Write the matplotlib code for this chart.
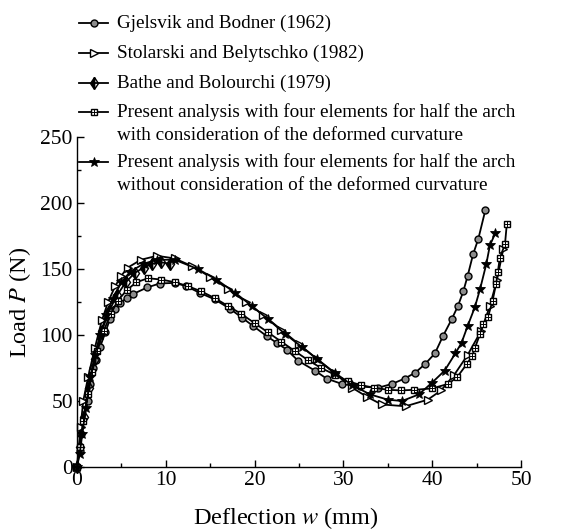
import matplotlib
matplotlib.use('Agg')
import matplotlib.pyplot as plt
from matplotlib.lines import Line2D

# Gjelsvik and Bodner (1962)
gj_x = [0, 0.3, 0.5, 1.2, 1.5, 1.8, 2.1, 2.6, 3.2, 3.7, 4.3, 4.8, 5.6, 6.3, 7.9, 9.3, 11.0,
        12.3, 13.8, 15.5, 17.2, 18.6, 19.8, 21.4, 22.5, 23.6, 24.9, 26.8, 28.1, 29.8, 31.9,
        33.9, 35.5, 36.9, 38.1, 39.2, 40.3, 41.2, 42.2, 42.9, 43.5, 44.0, 44.6, 45.2, 46.0]
gj_y = [0, 12, 25, 50, 63, 75, 81, 91, 102, 112, 120, 124, 128, 131, 136, 139, 139.5,
        137, 132, 127, 120, 113, 107, 99, 94, 89, 80.5, 73, 67, 63, 61,
        60, 63, 67, 71.5, 78, 86, 99, 112, 122, 133, 145, 161, 173, 195]

# Stolarski and Belytschko (1982)
st_x = [0, 0.4, 0.7, 1.25, 2.0, 2.8, 3.5, 4.3, 5.0, 5.7, 7.2, 9.0, 11, 13, 15, 17, 19, 21,
        23, 25, 27, 29, 31, 32.7, 34.3, 37, 39.5, 41, 42.5, 44, 45.5, 46.5, 47.3, 48]
st_y = [0, 30, 50, 68, 90, 111, 125, 137, 145, 151, 157, 160, 158, 152, 144, 135, 125, 115,
        104, 93, 82, 71, 60, 53, 47.4, 46, 51, 58, 70, 85, 103, 122, 142, 165]

# Bathe and Bolourchi (1979)
ba_x = [0, 0.3, 0.8, 1.3, 2.0, 2.8, 3.6, 4.5, 5.5, 6.5, 7.5, 8.5, 9.5, 10.5]
ba_y = [0, 15, 38, 60, 82, 103, 118, 130, 140, 147, 151, 154, 155, 154]

# Present analysis, with deformed curvature
pw_x = [0, 0.3, 0.7, 1.2, 1.7, 2.3, 3.0, 3.8, 4.6, 5.6, 6.7, 8.0, 9.5, 11, 12.5, 14, 15.5,
        17, 18.5, 20, 21.5, 23, 24.5, 26, 27.5, 29, 30.5, 32, 33.5, 35, 36.5, 38, 40, 41.8,
        42.8, 43.9, 44.5, 44.8, 45.4, 45.7, 46.3, 46.8, 47.2, 47.4, 47.6, 48.2, 48.4]
pw_y = [0, 15, 35, 55, 72, 88, 103, 116, 126, 134, 140, 143, 142, 140, 137, 133, 128,
        122, 116, 109, 102, 95, 88, 81, 75, 70, 65, 62, 60, 58.5, 58, 58.5, 59.5, 63,
        68, 78, 84, 90, 101, 108, 114, 126, 139, 148, 158, 169, 184]

# Present analysis, without deformed curvature
po_x = [0, 0.3, 0.6, 1.0, 1.5, 2.0, 2.6, 3.3, 4.0, 5.0, 6.0, 7.5, 9.0, 11, 13.6, 15.7, 17.8,
        19.7, 21.5, 23.4, 25.3, 27, 29, 31, 33, 35, 36.6, 38.5, 40, 41.4, 42.6, 43.3, 44,
        44.8, 45.4, 46.1, 46.5, 47.1]
po_y = [0, 10, 25, 45, 68, 85, 100, 115, 127, 140, 148, 154, 157, 157, 150, 142, 132,
        122, 112, 101, 91, 82, 71.5, 62, 55, 51, 50, 55, 64, 73, 86, 94, 107,
        121, 135, 154, 168, 177]

labels = [
    ['Gjelsvik and Bodner (1962)'],
    ['Stolarski and Belytschko (1982)'],
    ['Bathe and Bolourchi (1979)'],
    ['Present analysis with four elements for half the arch',
     'with consideration of the deformed curvature'],
    ['Present analysis with four elements for half the arch',
     'without consideration of the deformed curvature'],
]

plt.rcParams['font.family'] = ['Liberation Serif', 'DejaVu Serif']
plt.rcParams['mathtext.fontset'] = 'stix'

W, H = 571, 530
fig = plt.figure(figsize=(W / 100, H / 100), dpi=100)
ax = fig.add_axes([77 / W, 1 - 467 / H, 444 / W, 330 / H])

lw = 1.3
styles = [
    dict(marker='o', ms=5, mfc='0.55', mec='k', mew=1.0),
    dict(marker='>', ms=5.5, mfc='white', mec='k', mew=1.0),
    dict(marker='d', ms=6, mfc='k', mec='k', mew=1.0, fillstyle='left'),
    dict(marker='s', ms=5, mfc='white', mec='k', mew=1.0),
    dict(marker='*', ms=7.5, mfc='k', mec='k', mew=0.6),
]
series = [(gj_x, gj_y), (st_x, st_y), (ba_x, ba_y), (pw_x, pw_y), (po_x, po_y)]

for (xs, ys), st in zip(series, styles):
    ax.plot(xs, ys, color='k', lw=lw, clip_on=False, **st)
# cross inside the squares
ax.plot(pw_x, pw_y, ls='none', marker='+', ms=4, mec='k', mew=0.7, clip_on=False)

ax.set_xlim(0, 50)
ax.set_ylim(0, 250)
ax.set_xticks([0, 10, 20, 30, 40, 50])
ax.set_xticks([5, 15, 25, 35, 45], minor=True)
ax.set_yticks([0, 50, 100, 150, 200, 250])
ax.set_yticks([25, 75, 125, 175, 225], minor=True)
ax.tick_params(direction='in', which='major', length=5, width=1, labelsize=15.5, pad=3)
ax.tick_params(direction='in', which='minor', length=3, width=1)
for side in ['top', 'right']:
    ax.spines[side].set_visible(False)
for side in ['left', 'bottom']:
    ax.spines[side].set_linewidth(1.0)

ax.set_xlabel(r'Deflection $\mathit{w}$ (mm)', fontsize=17.5, labelpad=8)
ax.xaxis.set_label_coords(0.47, -0.115)
ax.set_ylabel(r'Load $\mathit{P}$ (N)', fontsize=17.5, labelpad=5)

# legend drawn by hand so the handle lines up with the first line of each label
rows = [23, 53, 83, 112, 162]
for row, lab, st in zip(rows, labels, styles):
    yf = 1 - row / H
    fig.add_artist(Line2D([79 / W, 108 / W], [yf, yf], color='k', lw=lw, transform=fig.transFigure))
    fig.add_artist(Line2D([93.5 / W], [yf], color='k', ls='none', transform=fig.transFigure, **st))
    if st['marker'] == 's':
        fig.add_artist(Line2D([93.5 / W], [yf], ls='none', marker='+', ms=4, mec='k', mew=0.7,
                              transform=fig.transFigure))
    for i, line in enumerate(lab):
        fig.text(117 / W, 1 - (row + 23 * i) / H, line, fontsize=13.8, va='center', ha='left')

fig.savefig('out.png', dpi=100)
